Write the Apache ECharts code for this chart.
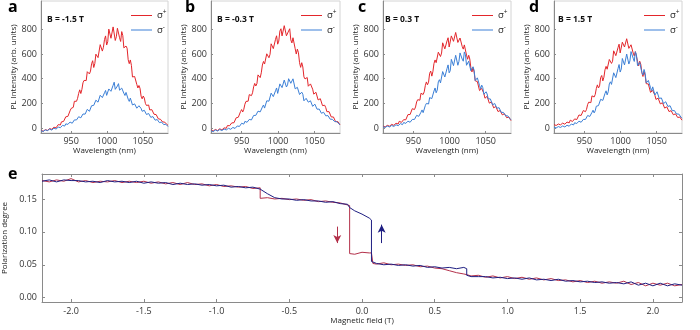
<!DOCTYPE html>
<html><head><meta charset="utf-8">
<script src="https://cdn.jsdelivr.net/npm/echarts@6/dist/echarts.min.js"></script>
<style>html,body{margin:0;padding:0;background:#fff}#c{width:700px;height:330px}</style>
</head><body><div id="c"></div>
<script>
// ---------- data ----------
const wavelength = [908,911,914,917,920,923,926,929,932,935,938,941,944,947,950,953,956,959,962,965,968,971,974,977,980,983,986,989,992,995,998,1001,1004,1007,1010,1013,1016,1019,1022,1025,1028,1031,1034,1037,1040,1043,1046,1049,1052,1055,1058,1061,1064,1067,1070,1073,1076,1079,1082,1085];
const wavelengthMid = [909.5,912.5,915.5,918.5,921.5,924.5,927.5,930.5,933.5,936.5,939.5,942.5,945.5,948.5,951.5,954.5,957.5,960.5,963.5,966.5,969.5,972.5,975.5,978.5,981.5,984.5,987.5,990.5,993.5,996.5,999.5,1002.5,1005.5,1008.5,1011.5,1014.5,1017.5,1020.5,1023.5,1026.5,1029.5,1032.5,1035.5,1038.5,1041.5,1044.5,1047.5,1050.5,1053.5,1056.5,1059.5,1062.5,1065.5,1068.5,1071.5,1074.5,1077.5,1080.5,1083.5];

const redA = [-17,-26,-13,-19,-4,-10,7,2,28,25,58,59,107,110,159,168,231,241,310,313,386,385,470,462,546,523,608,583,667,655,747,700,790,733,828,740,807,702,750,640,647,522,508,398,408,325,322,237,243,183,187,136,142,96,102,65,72,41,46,21];
const redAMid = [-16,-22,-10,-17,-6,-10,8,15,20,50,54,91,95,140,153,217,217,281,280,367,376,457,439,521,491,599,571,676,624,718,673,802,728,820,710,809,732,782,650,665,554,552,414,418,354,345,259,260,200,192,147,149,112,109,75,71,50,48,29];
const blueA = [-21,-28,-15,-21,-9,-16,-1,-8,8,3,22,16,38,31,55,47,74,67,97,90,128,119,159,150,196,184,236,219,272,252,305,273,331,298,372,313,360,298,325,264,276,216,228,182,199,162,176,136,144,110,118,87,93,64,69,44,49,28,31,12];
const blueAMid = [-26,-16,-22,-12,-18,-5,-8,6,1,14,12,34,30,49,39,66,66,92,83,114,113,152,136,181,184,226,210,266,247,286,265,317,298,347,314,341,307,324,282,289,234,243,187,196,161,181,159,129,143,109,113,79,83,61,66,39,41,21,26];

const redB = [-15,-24,-11,-20,-6,-15,2,-2,26,24,55,50,94,97,150,152,216,218,285,286,362,360,447,448,540,522,615,598,688,660,748,705,805,745,845,742,805,690,722,600,610,492,495,398,410,335,348,275,290,228,238,182,185,133,133,90,90,51,53,25];
const redBMid = [-21,-11,-19,-9,-17,-1,-3,20,19,42,43,83,88,133,130,193,207,271,263,334,341,431,409,511,519,602,570,683,644,719,680,786,747,830,748,787,715,732,643,640,530,530,415,412,339,358,315,264,283,224,225,166,165,125,124,80,74,41,45];
const blueB = [-21,-29,-16,-24,-12,-20,-8,-15,-2,-10,5,-3,17,13,39,32,60,52,84,76,113,102,147,137,187,177,234,225,286,264,325,293,362,330,398,350,412,348,385,306,322,258,274,218,238,196,211,171,182,144,150,115,121,90,93,67,70,47,49,28];
const blueBMid = [-20,-25,-15,-23,-15,-20,-8,-7,-10,4,-1,11,9,28,30,54,47,70,66,102,103,137,131,170,162,221,218,283,255,302,281,358,328,389,333,400,363,399,318,330,272,291,221,241,210,221,176,194,153,154,120,128,99,101,72,71,53,52,35];

const redC = [16,9,22,15,30,22,39,33,57,50,81,75,118,118,172,171,230,226,296,294,374,372,462,458,552,535,630,608,695,650,732,670,760,700,778,690,745,640,662,558,560,455,455,368,368,298,308,242,257,202,212,164,175,134,142,107,116,84,89,60];
const redCMid = [11,22,14,26,18,37,32,55,46,68,67,109,110,157,150,212,220,282,272,344,351,444,421,523,530,615,580,691,642,706,657,747,703,775,694,730,662,674,591,590,488,489,383,377,304,321,280,233,253,200,203,154,162,129,139,101,104,73,82];
const blueC = [11,5,16,9,21,13,27,19,36,28,46,36,62,52,81,73,111,102,147,140,200,195,262,250,325,308,392,370,460,425,512,465,560,505,605,540,620,542,595,505,538,450,468,382,392,318,328,262,276,225,230,181,191,148,157,119,125,91,95,68];
const blueCMid = [13,8,19,10,19,12,28,28,26,45,38,56,47,70,70,103,95,128,125,182,191,247,239,300,286,375,366,458,414,482,448,557,506,590,509,609,559,617,509,542,465,497,385,407,345,348,274,294,237,236,188,199,161,165,127,127,100,99,77];

const redD = [28,21,33,26,40,31,49,42,64,58,85,76,112,110,155,152,210,206,275,272,350,342,426,412,500,480,572,542,635,595,680,618,712,650,730,635,690,585,612,505,518,418,428,346,350,284,292,232,243,196,205,162,172,134,141,108,115,86,89,64];
const redDMid = [23,35,24,37,27,47,41,64,53,74,69,106,102,142,133,191,200,261,252,320,325,409,382,472,477,556,524,626,587,652,609,696,657,724,646,675,608,620,542,542,450,457,360,357,289,305,266,222,242,194,199,151,160,129,139,101,105,74,84];
const blueD = [7,1,12,5,17,9,23,15,33,25,45,36,62,50,81,73,109,103,145,140,192,186,246,235,302,295,375,365,450,425,515,478,560,515,612,545,632,540,595,500,525,430,445,362,372,302,318,258,280,228,242,192,208,162,174,132,142,103,110,80];
const blueDMid = [9,4,15,6,15,9,23,25,23,43,37,56,47,70,70,102,94,127,123,177,182,233,224,280,269,358,354,448,409,482,454,564,512,600,519,620,566,618,506,533,450,475,366,386,327,334,268,294,240,244,198,213,175,181,141,142,114,114,89];

const field = [-2.20,-2.15,-2.10,-2.05,-2.00,-1.95,-1.90,-1.85,-1.80,-1.75,-1.70,-1.65,-1.60,-1.55,-1.50,-1.45,-1.40,-1.35,-1.30,-1.25,-1.20,-1.15,-1.10,-1.05,-1.00,-0.95,-0.90,-0.85,-0.80,-0.75,-0.70,-0.70,-0.65,-0.60,-0.55,-0.50,-0.45,-0.40,-0.35,-0.30,-0.25,-0.20,-0.15,-0.10,-0.085,-0.085,-0.05,0.00,0.05,0.065,0.065,0.075,0.075,0.10,0.15,0.20,0.25,0.30,0.35,0.40,0.45,0.50,0.55,0.60,0.65,0.70,0.72,0.72,0.75,0.80,0.85,0.90,0.95,1.00,1.05,1.10,1.15,1.20,1.25,1.30,1.35,1.40,1.45,1.50,1.55,1.60,1.65,1.70,1.75,1.80,1.85,1.90,1.95,2.00,2.05,2.10,2.15,2.20];
const polRed = [0.178,0.176,0.179,0.177,0.181,0.176,0.178,0.175,0.177,0.176,0.178,0.175,0.177,0.175,0.177,0.174,0.176,0.173,0.175,0.172,0.175,0.172,0.173,0.170,0.172,0.169,0.170,0.168,0.169,0.166,0.167,0.151,0.152,0.150,0.151,0.149,0.150,0.148,0.149,0.146,0.147,0.145,0.144,0.141,0.140,0.067,0.066,0.069,0.068,0.068,0.068,0.067,0.052,0.051,0.053,0.050,0.051,0.049,0.050,0.047,0.048,0.045,0.044,0.041,0.038,0.036,0.035,0.035,0.033,0.034,0.031,0.033,0.030,0.032,0.029,0.031,0.028,0.030,0.027,0.029,0.026,0.027,0.024,0.026,0.023,0.025,0.022,0.024,0.022,0.025,0.020,0.023,0.018,0.022,0.019,0.022,0.018,0.020];
const polBlue = [0.177,0.179,0.176,0.179,0.178,0.178,0.176,0.177,0.175,0.178,0.176,0.177,0.175,0.177,0.174,0.176,0.174,0.175,0.172,0.174,0.172,0.173,0.171,0.172,0.170,0.171,0.168,0.169,0.167,0.168,0.165,0.165,0.158,0.152,0.150,0.150,0.148,0.149,0.147,0.147,0.145,0.146,0.143,0.142,0.137,0.137,0.132,0.127,0.121,0.118,0.055,0.054,0.054,0.052,0.050,0.051,0.049,0.050,0.048,0.049,0.046,0.047,0.045,0.046,0.044,0.046,0.044,0.034,0.032,0.032,0.032,0.030,0.031,0.029,0.030,0.028,0.030,0.027,0.028,0.026,0.028,0.025,0.026,0.024,0.025,0.023,0.024,0.022,0.023,0.021,0.024,0.019,0.022,0.018,0.022,0.018,0.021,0.019];

const downArrow = [[-0.17, 0.108], [-0.17, 0.083]];
const upArrow = [[0.135, 0.083], [0.135, 0.111]];

const wlTicks = [950, 1000, 1050];
const intTicks = [0, 200, 400, 600, 800];
const fieldTicks = [-2.0, -1.5, -1.0, -0.5, 0, 0.5, 1.0, 1.5, 2.0];
const polTicks = [0, 0.05, 0.10, 0.15];
const panelTitles = ['B = -1.5 T', 'B = -0.3 T', 'B = 0.3 T', 'B = 1.5 T'];
const panelLetters = ['a', 'b', 'c', 'd', 'e'];
const seriesNames = ['σ+', 'σ-'];

// ---------- styling / layout ----------
const FONT = 'Open Sans';
const RED = '#e3262b', BLUE = '#3b7fd6';
const RED_E = '#b3304a', BLUE_E = '#1f1f82';
const AX = '#8a8a8a';
const reds = [[redA, redAMid], [redB, redBMid], [redC, redCMid], [redD, redDMid]];
const blues = [[blueA, blueAMid], [blueB, blueBMid], [blueC, blueCMid], [blueD, blueDMid]];
const specLayout = [{left:41,width:127},{left:211,width:129},{left:383,width:128},{left:554,width:128}];
const legendLeft = [131, 301, 472, 644];
const titleLeft = [47, 217, 385, 558];
const letterPos = [[8,-1],[185,-1],[358,-1],[529,-1],[8,166]];

function merge(main, mid) {
  const out = [];
  wavelength.forEach((w, k) => {
    out.push([w, main[k]]);
    if (k < wavelengthMid.length) out.push([wavelengthMid[k], mid[k]]);
  });
  return out;
}

const grid = [], xAxis = [], yAxis = [], series = [], legend = [], title = [];
const lbl = {fontSize: 9, color: '#333', fontFamily: FONT};
const nameStyle = {fontSize: 8, color: '#222', fontFamily: FONT};

specLayout.forEach((g, i) => {
  grid.push({left: g.left, width: g.width, top: 1, height: 132, show: true, borderColor: '#d4d4d4', borderWidth: 1, backgroundColor: 'transparent', outerBoundsMode: 'none'});
  xAxis.push({gridIndex: i, type: 'value', min: 908, max: 1085,
    name: 'Wavelength (nm)', nameLocation: 'middle', nameGap: 14, nameTextStyle: nameStyle,
    axisLine: {show: true, onZero: false, lineStyle: {color: AX}},
    axisTick: {show: true, inside: true, length: 2, customValues: wlTicks, lineStyle: {color: AX}},
    axisLabel: Object.assign({customValues: wlTicks, margin: 4, formatter: v => String(v)}, lbl),
    splitLine: {show: false}});
  yAxis.push({gridIndex: i, type: 'value', min: -40, max: 1030,
    name: 'PL Intensity (arb. units)', nameLocation: 'middle', nameGap: 20, nameTextStyle: nameStyle,
    axisLine: {show: true, onZero: false, lineStyle: {color: AX}},
    axisTick: {show: true, inside: true, length: 2, customValues: intTicks, lineStyle: {color: AX}},
    axisLabel: Object.assign({customValues: intTicks, margin: 4, formatter: v => String(v)}, lbl),
    splitLine: {show: false}});
  series.push({type: 'line', name: seriesNames[0], xAxisIndex: i, yAxisIndex: i, symbol: 'none', showSymbol: false,
    data: merge(reds[i][0], reds[i][1]), color: RED, lineStyle: {width: 1, color: RED}, itemStyle: {color: RED}});
  series.push({type: 'line', name: seriesNames[1], xAxisIndex: i, yAxisIndex: i, symbol: 'none', showSymbol: false,
    data: merge(blues[i][0], blues[i][1]), color: BLUE, lineStyle: {width: 1, color: BLUE}, itemStyle: {color: BLUE}});
  legend.push({
    data: seriesNames,
    orient: 'vertical', left: legendLeft[i], top: 9, padding: 0,
    icon: 'rect', itemWidth: 21, itemHeight: 1, itemGap: 3, selectedMode: false,
    itemStyle: {color: 'inherit', borderWidth: 0},
    lineStyle: {color: 'inherit', width: 1},
    formatter: n => n === 'σ+' ? '{a|σ}{b|+}' : '{a|σ}{b|-}',
    textStyle: {fontFamily: FONT, color: '#222', rich: {a: {fontSize: 9.5, fontFamily: FONT, color: '#222'}, b: {fontSize: 6.5, fontFamily: FONT, color: '#222', verticalAlign: 'top', padding: [0, 0, 6, 0]}}}});
  title.push({text: panelTitles[i], left: titleLeft[i], top: 15, padding: 0,
    textStyle: {fontSize: 8.5, fontWeight: 'bold', color: '#111', fontFamily: FONT}});
});

panelLetters.forEach((t, i) => {
  title.push({text: t, left: letterPos[i][0], top: letterPos[i][1], padding: 0,
    textStyle: {fontSize: 16, fontWeight: 'bold', color: '#000', fontFamily: FONT}});
});

// panel e
grid.push({left: 42, top: 174, width: 640, height: 128, show: false, outerBoundsMode: 'none'});
xAxis.push({gridIndex: 4, type: 'value', min: -2.2, max: 2.2,
  name: 'Magnetic field (T)', nameLocation: 'middle', nameGap: 14, nameTextStyle: nameStyle,
  axisLine: {show: true, onZero: false, lineStyle: {color: AX}},
  axisTick: {show: true, inside: true, length: 3, customValues: fieldTicks, lineStyle: {color: AX}},
  axisLabel: Object.assign({customValues: fieldTicks, margin: 5, formatter: v => v.toFixed(1)}, lbl),
  splitLine: {show: false}});
xAxis.push({gridIndex: 4, type: 'value', position: 'top', min: -2.2, max: 2.2,
  axisLine: {show: true, onZero: false, lineStyle: {color: AX}},
  axisTick: {show: true, inside: true, length: 3, customValues: fieldTicks, lineStyle: {color: AX}},
  axisLabel: {show: false}, splitLine: {show: false}});
yAxis.push({gridIndex: 4, type: 'value', min: -0.0066, max: 0.188,
  name: 'Polarization degree', nameLocation: 'middle', nameGap: 24, nameTextStyle: nameStyle,
  axisLine: {show: true, onZero: false, lineStyle: {color: AX}},
  axisTick: {show: true, inside: true, length: 3, customValues: polTicks, lineStyle: {color: AX}},
  axisLabel: Object.assign({customValues: polTicks, margin: 5, formatter: v => v.toFixed(2)}, lbl),
  splitLine: {show: false}});
yAxis.push({gridIndex: 4, type: 'value', position: 'right', min: -0.0066, max: 0.188,
  axisLine: {show: true, onZero: false, lineStyle: {color: AX}},
  axisTick: {show: true, inside: true, length: 3, customValues: polTicks, lineStyle: {color: AX}},
  axisLabel: {show: false}, splitLine: {show: false}});

series.push({type: 'line', name: 'down', xAxisIndex: 4, yAxisIndex: 4, symbol: 'none', showSymbol: false,
  data: field.map((f, k) => [f, polRed[k]]), lineStyle: {width: 1, color: RED_E}, itemStyle: {color: RED_E},
  markLine: {silent: true, symbol: ['none', 'arrow'], symbolSize: [6, 8], label: {show: false},
    lineStyle: {color: RED_E, width: 1, type: 'solid'},
    data: [[{coord: downArrow[0]}, {coord: downArrow[1]}]]}});
series.push({type: 'line', name: 'up', xAxisIndex: 4, yAxisIndex: 4, symbol: 'none', showSymbol: false,
  data: field.map((f, k) => [f, polBlue[k]]), lineStyle: {width: 1, color: BLUE_E}, itemStyle: {color: BLUE_E},
  markLine: {silent: true, symbol: ['none', 'arrow'], symbolSize: [6, 8], label: {show: false},
    lineStyle: {color: BLUE_E, width: 1, type: 'solid'},
    data: [[{coord: upArrow[0]}, {coord: upArrow[1]}]]}});

const chart = echarts.init(document.getElementById('c'), null, {renderer: 'canvas'});
chart.setOption({animation: false, backgroundColor: '#fff', textStyle: {fontFamily: FONT},
  grid, xAxis, yAxis, series, legend, title});
</script></body></html>
